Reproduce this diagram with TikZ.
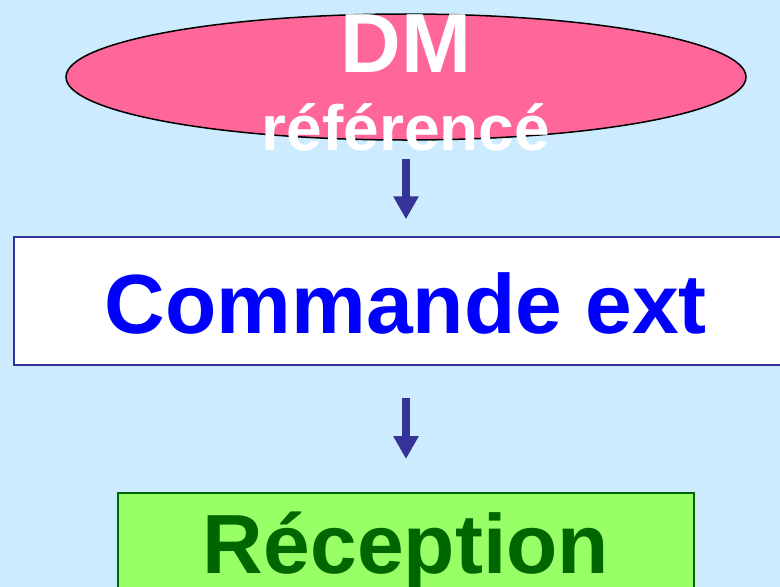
\documentclass[tikz,border=0pt]{standalone}
\usepackage{fontspec}
\setmainfont{Liberation Sans}
\usetikzlibrary{shapes.geometric,arrows.meta}
\definecolor{bgblue}{HTML}{CCEBFF}
\definecolor{pinkfill}{HTML}{FF6699}
\definecolor{navy}{HTML}{333399}
\definecolor{lgreen}{HTML}{99FF66}
\definecolor{dgreen}{HTML}{006600}
\definecolor{tblue}{HTML}{0000FF}
\tikzset{
  bigtxt/.style={font=\fontsize{84}{84}\selectfont\bfseries, anchor=base, inner sep=0pt},
  midtxt/.style={font=\fontsize{64}{64}\selectfont\bfseries, anchor=base, inner sep=0pt},
  arr/.style={draw=navy, line width=8pt, -{Triangle[width=24pt,length=23pt]}},
}
\begin{document}
\begin{tikzpicture}[x=1pt,y=-1pt]
\useasboundingbox (0,0) rectangle (780,587);
\clip (0,0) rectangle (780,587);
\fill[bgblue] (0,0) rectangle (780,587);
\node[ellipse, draw=black, line width=1.5pt, fill=pinkfill, minimum width=680pt, minimum height=126pt, inner sep=0pt] (ell) at (406,77) {};
\node[draw=navy, line width=1.5pt, fill=white, minimum width=786pt, minimum height=128pt, inner sep=0pt] (box) at (407,301) {};
\node[draw=dgreen, line width=2pt, fill=lgreen, minimum width=576pt, minimum height=140pt, inner sep=0pt] (rec) at (406,563) {};
\node[bigtxt, text=white] (dm) at (406,72) {DM};
\node[midtxt, text=white] (ref) at (406,150) {référencé};
\node[bigtxt, text=tblue] (cmd) at (406,333) {Commande ext};
\node[bigtxt, text=dgreen] (recep) at (406,573) {Réception};
\draw[arr, shorten <=18pt, shorten >=17pt] (ell.south) -- (box.north -| ell.south);
\draw[arr, shorten <=32pt, shorten >=33pt] (box.south -| ell.south) -- (rec.north);
\end{tikzpicture}
\end{document}
